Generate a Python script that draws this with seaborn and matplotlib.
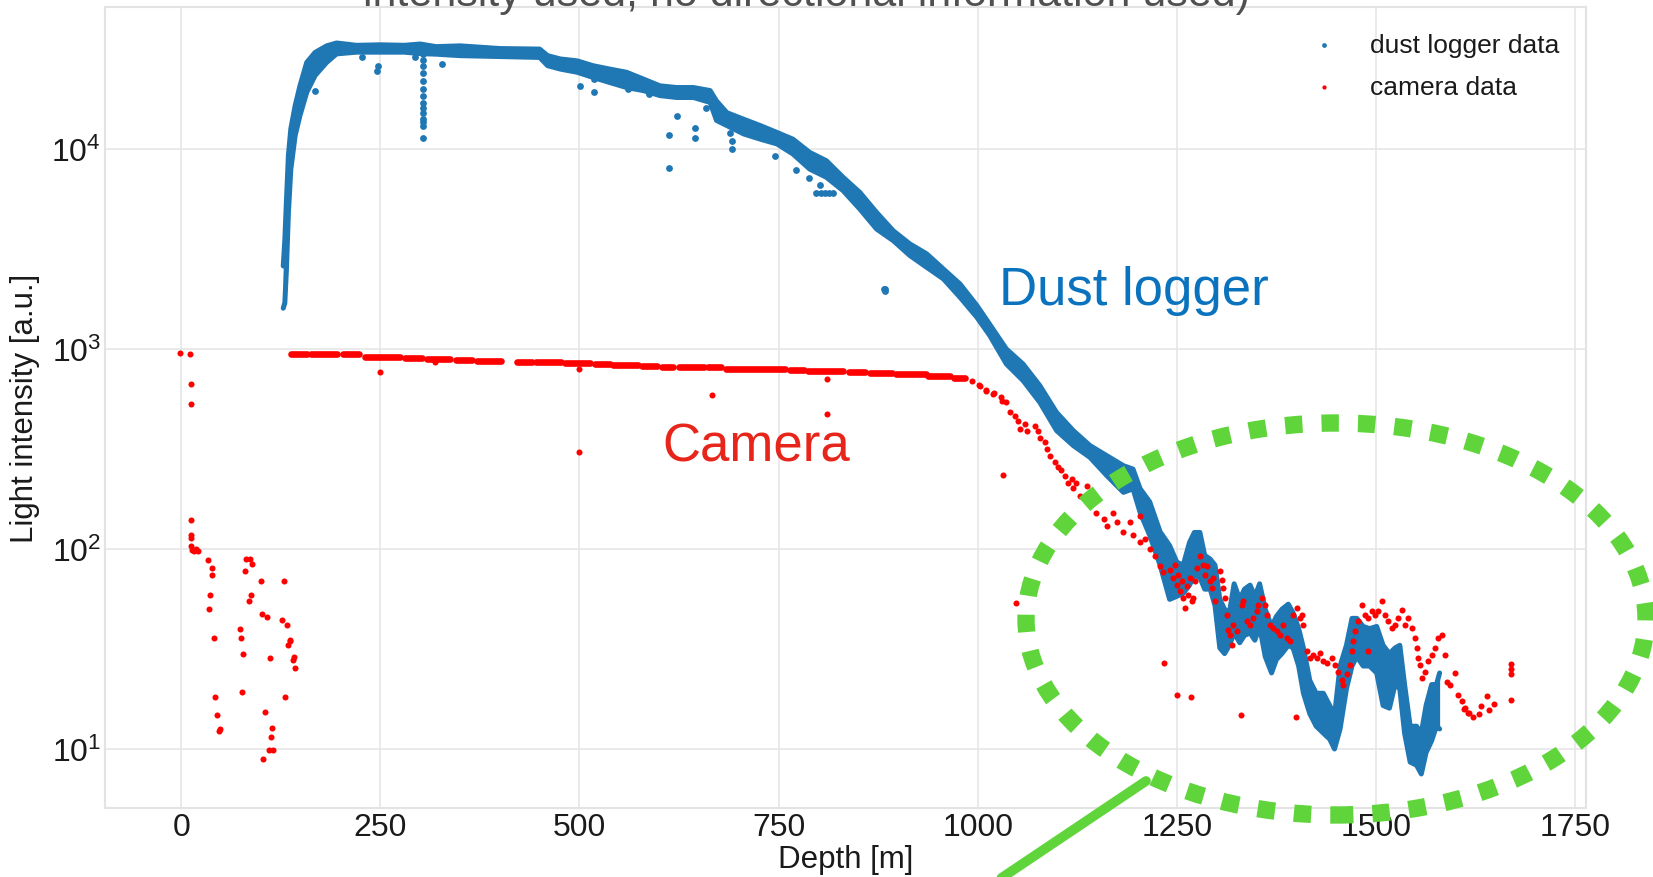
import matplotlib
matplotlib.use("Agg")
import matplotlib.pyplot as plt
import pandas as pd
import seaborn as sns
from matplotlib.patches import Ellipse
from matplotlib.lines import Line2D
from matplotlib.ticker import NullLocator

# ---------------- dust logger: envelope of the dense trace (depth [m], low, high) -------------
dust_depth = [128, 130, 132, 134.5, 137.5, 143, 149, 157.5, 168, 182.5, 195, 220, 250, 280, 300,
              320, 350, 400, 450, 460, 476, 497, 517, 538, 559, 580, 601, 622, 643, 664, 672,
              685, 706, 727, 748, 768, 789, 810, 831, 852, 873, 894, 915, 936, 957, 978, 999,
              1015, 1036, 1057, 1078, 1099, 1120, 1141, 1162, 1183, 1195, 1204, 1216, 1229,
              1241, 1250, 1258, 1266, 1272, 1279, 1285, 1292, 1298, 1304, 1310, 1316, 1322,
              1329, 1335, 1342, 1348, 1354, 1361, 1369, 1375, 1382, 1390, 1396, 1403, 1409,
              1417, 1425, 1434, 1442, 1448, 1455, 1463, 1470, 1476, 1484, 1492, 1501, 1509,
              1517, 1524, 1530, 1536, 1543, 1551, 1557, 1563, 1570, 1576, 1580]
dust_low = [1600, 1700, 2500, 4800, 7900, 11700, 14700, 19200, 23300, 27100, 29900, 30500, 30500,
            30500, 30000, 29800, 29300, 29000, 28700, 26100, 25100, 24200, 22800, 21500, 20300,
            19600, 18500, 18100, 18100, 17100, 13900, 13100, 11900, 11200, 10600, 9440, 7940,
            7220, 6190, 5010, 3980, 3480, 2930, 2560, 2240, 1810, 1440, 1170, 841, 695, 541, 391,
            329, 287, 233, 192, 200, 152, 117, 83, 56, 58, 60, 66, 74, 72, 63, 63, 52, 32, 30, 33,
            38, 34, 37, 38, 35, 41, 29, 24, 28, 30, 33, 32, 26, 19, 15, 13, 12, 11.2, 10, 12.6,
            20, 26, 29, 26, 26, 24, 16.5, 16, 21, 20, 12, 8.6, 8.3, 7.5, 9.6, 11, 13, 12.6]
dust_high = [2600, 3500, 5500, 9300, 12600, 16500, 20700, 27100, 30400, 32800, 33900, 33000, 33200,
             33000, 33500, 32500, 32800, 31800, 31600, 29300, 28200, 27600, 26100, 25100, 24200,
             22400, 20700, 20300, 20300, 19600, 17400, 15200, 14100, 13100, 12100, 11200, 9620,
             8740, 7220, 6070, 4820, 3900, 3350, 2990, 2510, 2110, 1650, 1330, 1000, 841, 656,
             482, 391, 329, 293, 261, 251, 200, 172, 122, 104, 86, 83, 108, 121, 121, 93, 89, 83,
             56, 50, 48, 67, 56, 63, 66, 58, 67, 50, 41, 46, 50, 53, 48, 40, 32, 22, 19, 19, 16.5,
             14.7, 26, 33, 45, 45, 41, 40, 41, 33, 30, 32, 33, 21, 13, 13, 12, 16.5, 21, 21, 24]

# dust logger readings lying off the main trace
dust_spike_depth = [303.5] * 14 + [247.5, 246, 327, 293.5, 226.5, 168, 500.6, 518.6, 518.6, 561,
                                   587.5, 612.4, 612.4, 622, 645, 645, 658.6, 689, 691, 691, 745,
                                   771.8, 787.6, 801.4, 797, 803, 808, 813, 818, 882, 884, 883]
dust_spike_value = [30000, 28000, 26000, 24000, 22000, 20000, 18500, 17000, 16000, 15200, 14200,
                    13600, 13000, 11400,
                    26100, 24600, 26600, 28700, 28700, 19500, 20600, 22500, 19200, 20000, 18800,
                    11700, 8040, 14600, 12700, 11400, 16000, 12000, 11000, 10000, 9270, 7890, 7160,
                    6580, 6030, 6030, 6030, 6030, 6030, 2000, 2000, 1960]

# ---------------- camera: runs of closely spaced readings (start, end, level) ------------------
cam_run_start = [137.6, 163, 203, 231, 281, 308.6, 345, 371.5, 421.6, 446, 481.5, 519, 542.6,
                 578.6, 603.6, 624.4, 661, 684, 763.7, 787, 838, 865, 897, 937.8, 970]
cam_run_end = [157.8, 196, 223, 275, 302, 338, 365, 402, 440, 476.6, 513, 537.7, 573, 597.5, 617,
               656.8, 678, 757.6, 782, 831, 858.4, 892, 934.7, 965, 983.6]
cam_run_level = [940, 944, 940, 912, 905, 891, 881, 871, 864, 858, 847, 841, 832, 826, 816, 816,
                 813, 798, 788, 779, 770, 762, 750, 733, 713]

# camera: individual readings
cam_depth = [-2, 11, 12.6, 12.6, 12.6, 12.6, 12.6, 12.6, 13, 16, 21, 19, 33, 39, 38, 36, 34.6, 41.3,
             42.6, 44.6, 48, 47, 81, 86, 89, 80, 100, 128.5, 87.2, 84.6, 101, 107, 126.5, 132.5,
             73.2, 74.6, 137, 136, 134.5, 77.9, 111, 141, 140, 143, 75.9, 130.5, 105, 114.5, 112.5,
             110, 115, 103,
             249, 500, 319, 666, 811, 811, 500,
             992.7, 1002, 1011, 1020, 1029, 1035.5, 1003, 1011, 1019.6, 1030, 1040.5, 1046.8,
             1051, 1053, 1059, 1062, 1072, 1076, 1078, 1084.5, 1086.6, 1090.8, 1097, 1101, 1105,
             1109.6, 1114, 1118, 1120, 1124, 1128, 1137, 1143, 1149, 1158, 1162, 1170, 1174.5,
             1183, 1191, 1195.4, 1204, 1204, 1210, 1216.4, 1222.6, 1229, 1233, 1032, 1048.6,
             1241.4, 1245.6, 1247.7, 1249.8, 1251.9, 1254, 1256, 1258, 1260.2, 1262.3, 1264.4,
             1266.5, 1268.6, 1270.7, 1272.8, 1274.9, 1279, 1283.3, 1285.3, 1287.4, 1291.6, 1293.7,
             1295.8, 1297.9, 1304.2, 1306.3, 1308.4, 1310.5, 1312.6, 1314.6, 1316.7, 1318.8, 1321,
             1325.1, 1331.4, 1333.5, 1337.7, 1341.9, 1346, 1350.3, 1352.4, 1356.6, 1360.8, 1362.9,
             1367, 1371.2, 1375.4, 1379.6, 1383.7, 1387.9, 1392, 1396.3, 1400.5, 1404.6, 1406.7,
             1408.8, 1413, 1417.2, 1421.4, 1425.6, 1429.8, 1434, 1438, 1444.4, 1448.6, 1452.8,
             1457, 1459, 1463.2, 1467.4, 1469.5, 1471.6, 1473.7, 1477.9, 1482, 1486.3, 1490.5,
             1490.5, 1494.6, 1498.8, 1503, 1507.2, 1511.4, 1515.6, 1519.8, 1524, 1528.2, 1532.4,
             1536.5, 1540.7, 1545, 1549, 1551.2, 1553.3, 1555.4, 1557.5, 1561.6, 1565.8, 1570,
             1574.2, 1578.4, 1582.5, 1586.7, 1589, 1593, 1599.3, 1603.5, 1607.7, 1611.9, 1616,
             1250, 1268, 1234.4, 1330, 1400,
             1611, 1617.5, 1622, 1629, 1632, 1638.9, 1642, 1648, 1670, 1670, 1670, 1670]
cam_value = [950, 944, 668, 531, 139, 118, 113, 104, 99, 98, 98, 100, 88.5, 80.7, 73.8, 58.9, 50.1,
             36.1, 18.1, 14.8, 12.6, 12.3, 89.5, 89.5, 84, 78, 69.5, 68.9, 59, 55.2, 47.5, 45.9,
             44.3, 41.9, 39.8, 36.1, 35, 34.5, 33.1, 29.9, 28.5, 28.8, 28, 25.4, 19.3, 18.3, 15.4,
             12.7, 11.5, 9.9, 9.9, 8.87,
             771, 794, 865, 589, 705, 473, 307,
             695, 661, 624, 600, 578, 541, 656, 617, 596, 552, 482, 464, 439, 398, 422, 391, 414,
             391, 361, 341, 316, 293, 271, 256, 247, 233, 215, 224, 203, 215, 185, 207, 171, 152,
             141, 131, 152, 136, 121, 136, 117, 147, 108, 112, 100, 92.7, 82.6, 76.4, 234, 54,
             78.9, 71.6, 83.6, 66.4, 74.5, 61.4, 68.9, 56.9, 50.7, 65, 59.2, 71.6, 54.7, 56.9,
             68.9, 80.4, 91.8, 83.6, 74.5, 81.8, 68.9, 63.8, 71.6, 54.7, 77.3, 70.3, 63.8, 56.9,
             47, 39.5, 37.3, 33.3, 41.9, 38.7, 52.7, 54.7, 43.5, 41.9, 45.2, 48.8, 52.7, 56.9,
             52.7, 47, 41.9, 40.3, 38.7, 37.3, 41.9, 35.9, 34.5, 47, 50.7, 45.2, 47, 41.9, 30.8,
             28.5, 29.6, 28.5, 30.2, 27.4, 26.9, 28.5, 26.3, 24.4, 22.2, 20.9, 23.6, 26.3, 30.8,
             34.5, 38.7, 43.5, 52.7, 47, 45.2, 30.8, 48.8, 47, 48.8, 54.7, 47, 43.5, 40.3, 41.9,
             45.2, 49.8, 41.9, 45.2, 40.3, 35.9, 32, 28.5, 26.3, 22.6, 24.4, 27.4, 29.6, 32, 35.9,
             37.3, 29.6, 21.7, 20.9, 24, 18.6, 17.3, 16, 15.1,
             18.6, 18.3, 26.8, 14.8, 14.5,
             15.8, 15.2, 14.4, 15, 16.5, 18.5, 15.6, 16.8, 26.6, 25.1, 23.7, 17.5]

depth_ticks = [0, 250, 500, 750, 1000, 1250, 1500, 1750]

BLUE = "#1f77b4"
RED = "#ff0000"
GREEN = "#5fd53b"

sns.set_theme(style="whitegrid")
plt.rcParams["font.family"] = ["Liberation Sans", "DejaVu Sans"]
plt.rcParams["mathtext.fontset"] = "custom"
plt.rcParams["mathtext.rm"] = "Liberation Sans"
plt.rcParams["mathtext.it"] = "Liberation Sans:italic"
plt.rcParams["mathtext.bf"] = "Liberation Sans:bold"

W, H = 1653, 878
fig = plt.figure(figsize=(W / 100, H / 100), dpi=100)
ax = fig.add_axes([105 / W, 1 - 809 / H, (1586 - 105) / W, (809 - 8) / H])

# dust logger trace: filled envelope with its two edges
dust = pd.DataFrame({"depth": dust_depth, "low": dust_low, "high": dust_high})
ax.fill_between(dust["depth"], dust["low"], dust["high"], color=BLUE, lw=0, zorder=2)
sns.lineplot(data=dust, x="depth", y="low", color=BLUE, lw=3.6, estimator=None, ax=ax, zorder=2)
sns.lineplot(data=dust, x="depth", y="high", color=BLUE, lw=3.6, estimator=None, ax=ax, zorder=2)
sns.scatterplot(x=dust_spike_depth, y=dust_spike_value, color=BLUE, s=24, linewidth=0,
                label="dust logger data", ax=ax, zorder=3)

# camera runs drawn as short strokes
runs = pd.DataFrame({
    "run": [i for i in range(len(cam_run_start)) for _ in range(2)],
    "depth": [d for pair in zip(cam_run_start, cam_run_end) for d in pair],
    "level": [v for v in cam_run_level for _ in range(2)],
})
sns.lineplot(data=runs, x="depth", y="level", units="run", estimator=None, color=RED, lw=4.8,
             solid_capstyle="round", ax=ax, zorder=4)
sns.scatterplot(x=cam_depth, y=cam_value, color=RED, s=19, linewidth=0, label="camera data",
                ax=ax, zorder=4)

ax.set_yscale("log")
ax.set_xlim(-95.8, 1763.8)
ax.set_ylim(5.07, 51300)
ax.set_xticks(depth_ticks)
ax.set_xticklabels([str(t) for t in depth_ticks])
ax.yaxis.set_minor_locator(NullLocator())
ax.tick_params(axis="both", labelsize=23, length=0, pad=3, labelcolor="#1a1a1a")
ax.grid(True, color="#e6e6e6", lw=1.2)
for sp in ax.spines.values():
    sp.set_color("#e3e3e3")
    sp.set_linewidth(1.5)

ax.set_xlabel("Depth [m]", fontsize=22.5, color="#1a1a1a", labelpad=1)
ax.set_ylabel("Light intensity [a.u.]", fontsize=22.5, color="#1a1a1a", labelpad=8)

leg = ax.legend(loc="upper right", frameon=False, fontsize=19, markerscale=0.7,
                handletextpad=0.75, labelspacing=0.68, borderaxespad=0.6)
for t in leg.get_texts():
    t.set_color("#1a1a1a")

ax.text(1027, 1680, "Dust logger", color="#0b73bd", fontsize=38, ha="left", va="baseline")
ax.text(604, 276, "Camera", color="#e8251a", fontsize=38, ha="left", va="baseline")

fig.text(806 / W, 1 - 6 / H, "intensity used, no directional information used)",
         ha="center", va="baseline", fontsize=31, color="#505050")

# highlight of the deep region
ell = Ellipse((1336 / W, 1 - 620 / H), 620 / W, 392 / H, transform=fig.transFigure,
              fill=False, edgecolor=GREEN, lw=12.5, linestyle=(0, (1.0, 1.1)),
              capstyle="butt", zorder=10)
fig.add_artist(ell)
fig.add_artist(Line2D([1146 / W, 985 / W], [1 - 782 / H, 1 - 890 / H], color=GREEN, lw=7,
                      transform=fig.transFigure, zorder=10))

fig.savefig("out.png", dpi=100)
